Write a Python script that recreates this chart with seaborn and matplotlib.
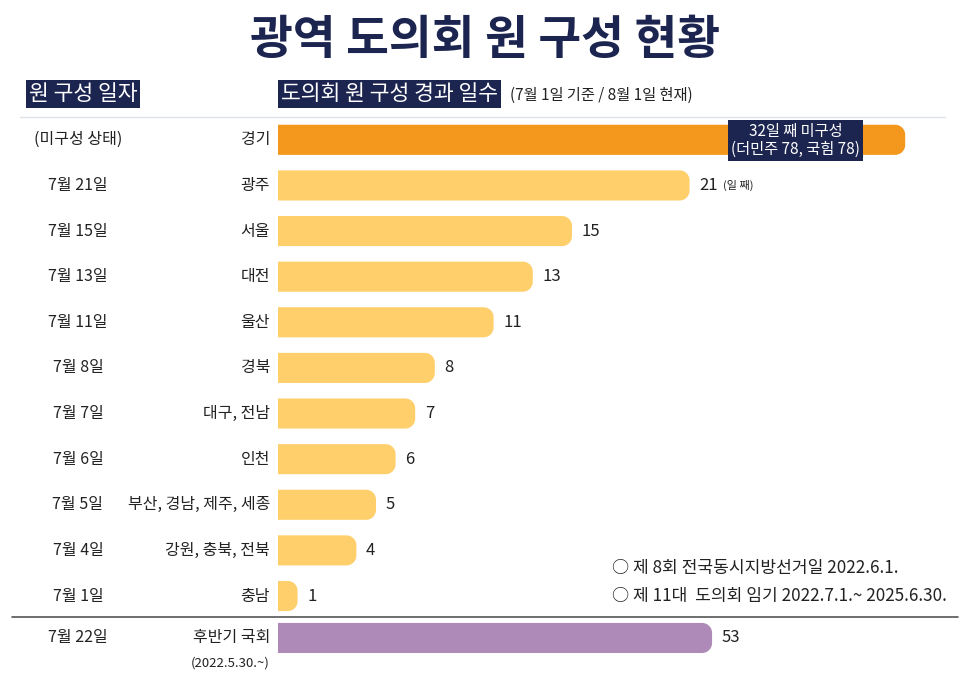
import matplotlib
matplotlib.use('Agg')
import numpy as np
import matplotlib.pyplot as plt
import seaborn as sns
import pandas as pd
from matplotlib.patches import PathPatch
from matplotlib.path import Path
from matplotlib.lines import Line2D

# Data
regions = ['경기', '광주', '서울', '대전', '울산', '경북', '대구, 전남', '인천',
           '부산, 경남, 제주, 세종', '강원, 충북, 전북', '충남']
days = [32, 21, 15, 13, 11, 8, 7, 6, 5, 4, 1]
dates = ['(미구성 상태)', '7월 21일', '7월 15일', '7월 13일', '7월 11일', '7월 8일',
         '7월 7일', '7월 6일', '7월 5일', '7월 4일', '7월 1일']
assembly_label = ['후반기 국회']
assembly_days = [53]
assembly_date = ['7월 22일']

NAVY = '#1c2550'
ORANGE = '#f3981d'
YELLOW = '#fecf6a'
PURPLE = '#ae8ab9'

sns.set_style('white')
plt.rcParams['font.family'] = ['Noto Sans CJK KR', 'DejaVu Sans']

W, H = 970, 686
fig = plt.figure(figsize=(9.7, 6.86), dpi=100)


def fx(px):
    return px / W


def fy(py):
    return 1 - py / H


def round_bars(ax, radius_px=10):
    # swap each bar for a shape with a square left end and a rounded right end
    fig.canvas.draw()
    bb = ax.get_window_extent()
    x0, x1 = ax.get_xlim()
    y0, y1 = ax.get_ylim()
    xu = abs(x1 - x0) / bb.width
    yu = abs(y1 - y0) / bb.height
    for p in list(ax.patches):
        x, y, w, h = p.get_x(), p.get_y(), p.get_width(), p.get_height()
        c = p.get_facecolor()
        p.set_visible(False)
        rx = min(radius_px * xu, w / 2)
        ry = min(radius_px * yu, h / 2)
        t = np.linspace(0, np.pi / 2, 12)
        # corners: y is the top in data (smaller value), y+h the bottom
        top = [(x + w - rx + rx * np.sin(a), y + ry - ry * np.cos(a)) for a in t]
        bot = [(x + w - rx + rx * np.cos(a), y + h - ry + ry * np.sin(a)) for a in t]
        verts = [(x, y)] + top + bot + [(x, y + h), (x, y)]
        codes = [Path.MOVETO] + [Path.LINETO] * (len(verts) - 2) + [Path.CLOSEPOLY]
        ax.add_patch(PathPatch(Path(verts, codes), fc=c, ec='none', lw=0, zorder=2))


# main axes
ax = fig.add_axes([fx(278), fy(617), fx(692), (617 - 117) / H])
df = pd.DataFrame({'region': regions, 'days': days})
sns.barplot(data=df, y='region', x='days', hue='region', orient='h',
            palette=[ORANGE] + [YELLOW] * (len(regions) - 1), legend=False,
            saturation=1, width=0.66, ax=ax, zorder=2)
ax.set_xlim(0, 692 / 19.6)
ax.set_ylim(10.46, -0.5)
ax.axis('off')

ax2 = fig.add_axes([fx(278), 0, fx(692), 69 / H])
df2 = pd.DataFrame({'region': assembly_label, 'days': assembly_days})
sns.barplot(data=df2, y='region', x='days', color=PURPLE, orient='h',
            saturation=1, width=0.66, ax=ax2, zorder=2)
ax2.set_xlim(0, 692 / 8.19)
ax2.set_ylim(1.053, -0.46)
ax2.axis('off')

round_bars(ax)
round_bars(ax2)

# row labels
for i, (reg, d, dt) in enumerate(zip(regions, days, dates)):
    ax.annotate(reg, xy=(fx(270), i), xycoords=('figure fraction', 'data'),
                ha='right', va='center', fontsize=11.5, color='#222222')
    ax.annotate(dt, xy=(fx(78), i), xycoords=('figure fraction', 'data'),
                ha='center', va='center', fontsize=11.5, color='#222222')
    if i > 0:
        ax.annotate(str(d), xy=(d, i), xytext=(7, 0), textcoords='offset points',
                    ha='left', va='center', fontsize=12, color='#222222')
ax.annotate('(일 째)', xy=(days[1], 1), xytext=(24, 0), textcoords='offset points',
            ha='left', va='center', fontsize=8, color='#222222')

ax.text(26.4, 0.02, '32일 째 미구성\n(더민주 78, 국힘 78)', ha='center', va='center',
        fontsize=11, color='white', linespacing=1.05, zorder=4,
        bbox=dict(boxstyle='square,pad=0.2', fc=NAVY, ec='none'))

ax2.annotate(assembly_label[0], xy=(fx(270), 0), xycoords=('figure fraction', 'data'),
             ha='right', va='center', fontsize=11.5, color='#222222')
ax2.annotate('(2022.5.30.~)', xy=(fx(270), 0.55), xycoords=('figure fraction', 'data'),
             ha='right', va='center', fontsize=9.5, color='#222222')
ax2.annotate(assembly_date[0], xy=(fx(78), 0), xycoords=('figure fraction', 'data'),
             ha='center', va='center', fontsize=11.5, color='#222222')
ax2.annotate(str(assembly_days[0]), xy=(assembly_days[0], 0), xytext=(7, 0),
             textcoords='offset points', ha='left', va='center', fontsize=12, color='#222222')

# title and headers
fig.text(0.5, fy(40), '광역 도의회 원 구성 현황', ha='center', va='center',
         fontsize=33.5, fontweight='black', color=NAVY)
fig.text(fx(29), fy(94), '원 구성 일자', ha='left', va='center', fontsize=15.5,
         color='white', bbox=dict(boxstyle='square,pad=0.12', fc=NAVY, ec='none'))
fig.text(fx(281), fy(94), '도의회 원 구성 경과 일수', ha='left', va='center', fontsize=15.5,
         color='white', bbox=dict(boxstyle='square,pad=0.12', fc=NAVY, ec='none'))
fig.text(fx(510), fy(95), '(7월 1일 기준 / 8월 1일 현재)', ha='left', va='center',
         fontsize=11, color='#222222')

# lines
fig.add_artist(Line2D([fx(20), fx(945)], [fy(117), fy(117)], color='#dfe2e8', lw=1))
fig.add_artist(Line2D([fx(12), fx(958)], [fy(617), fy(617)], color='#555555', lw=1.2))

# notes
fig.text(fx(612), fy(568), '○ 제 8회 전국동시지방선거일 2022.6.1.', ha='left', va='center',
         fontsize=12.3, color='#222222')
fig.text(fx(612), fy(596), '○ 제 11대  도의회 임기 2022.7.1.~ 2025.6.30.', ha='left',
         va='center', fontsize=12.3, color='#222222')

fig.savefig('out.png', dpi=100)
